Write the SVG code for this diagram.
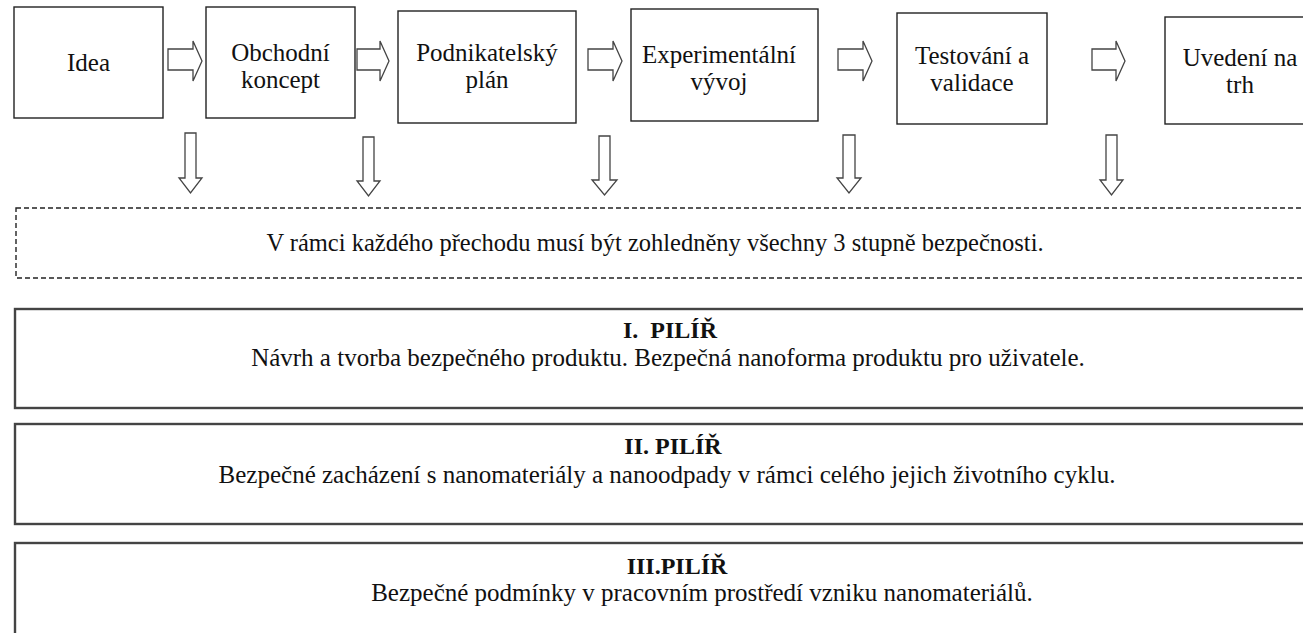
<svg xmlns="http://www.w3.org/2000/svg" width="1303" height="633" viewBox="0 0 1303 633">
<style>
text{font-family:"Liberation Serif","DejaVu Serif",serif;fill:#111;text-anchor:middle}
.lbl{font-size:25px}
.box{fill:#fff;stroke:#222;stroke-width:1.4}
.dash{fill:none;stroke:#222;stroke-width:1.4;stroke-dasharray:5 3}
.pil{fill:#fff;stroke:#444;stroke-width:2.4}
.arr{fill:#fff;stroke:#444;stroke-width:1.3;stroke-linejoin:miter}
.t2{font-size:24.5px}
.t3{font-size:25px}
.tb{font-size:24px;font-weight:bold}
</style>
<rect width="1303" height="633" fill="#fff"/>
<g font-family="Liberation Serif, serif">
<g id="n-idea"><rect class="box" x="14" y="7" width="149" height="111"/><text class="lbl" x="88.5" y="71">Idea</text></g>
<g id="n-obchodni"><rect class="box" x="206" y="7" width="149" height="111"/><text class="lbl" x="280.5" y="61">Obchodní</text><text class="lbl" x="280.5" y="88">koncept</text></g>
<g id="n-podnik"><rect class="box" x="398" y="11" width="178" height="112"/><text class="lbl" x="487" y="61">Podnikatelský</text><text class="lbl" x="487" y="88">plán</text></g>
<g id="n-exper"><rect class="box" x="631" y="9" width="187" height="112"/><text class="lbl" x="719" y="63">Experimentální</text><text class="lbl" x="719" y="90">vývoj</text></g>
<g id="n-test"><rect class="box" x="897" y="13" width="150" height="111"/><text class="lbl" x="972" y="64">Testování a</text><text class="lbl" x="972" y="91">validace</text></g>
<g id="n-uvedeni"><rect class="box" x="1165" y="17" width="160" height="107"/><text class="lbl" x="1240" y="66">Uvedení na</text><text class="lbl" x="1240" y="93">trh</text></g>
<g id="connectors">
<polygon class="arr" points="168,49 193,49 193,41 202,61 193,81 193,70 168,70"/>
<polygon class="arr" points="357,49 380,49 380,41 389,61 380,81 380,70 357,70"/>
<polygon class="arr" points="588,49 613,49 613,41 622,61 613,81 613,70 588,70"/>
<polygon class="arr" points="838,49 863,49 863,41 872,61 863,81 863,70 838,70"/>
<polygon class="arr" points="1092,49 1116,49 1116,41 1125,61 1116,81 1116,70 1092,70"/>
<polygon class="arr" points="185,133 196,133 196,178 202,178 190.5,193 179,178 185,178"/>
<polygon class="arr" points="363,137 374,137 374,181 380,181 368.5,196 357,181 363,181"/>
<polygon class="arr" points="599,136 610,136 610,180 617,180 604.5,195 592,180 599,180"/>
<polygon class="arr" points="843,135 855,135 855,178 861,178 849,193 837,178 843,178"/>
<polygon class="arr" points="1106,135 1117,135 1117,180 1123,180 1111.5,195 1100,180 1106,180"/>
</g>
<g id="n-ramec"><rect class="dash" x="16" y="208" width="1300" height="70"/><text class="t2" x="655" y="251">V rámci každého přechodu musí být zohledněny všechny 3 stupně bezpečnosti.</text></g>
<g id="n-pilir1"><rect class="pil" x="15" y="309" width="1300" height="99"/><text class="tb" x="670" y="338">I.&#160; PILÍŘ</text><text class="t3" x="668" y="366">Návrh a tvorba bezpečného produktu. Bezpečná nanoforma produktu pro uživatele.</text></g>
<g id="n-pilir2"><rect class="pil" x="15" y="424" width="1300" height="100"/><text class="tb" x="673" y="454">II. PILÍŘ</text><text class="t3" x="667" y="483">Bezpečné zacházení s nanomateriály a nanoodpady v rámci celého jejich životního cyklu.</text></g>
<g id="n-pilir3"><rect class="pil" x="15" y="543" width="1300" height="110"/><text class="tb" x="677" y="574">III.PILÍŘ</text><text class="t3" x="702" y="601">Bezpečné podmínky v pracovním prostředí vzniku nanomateriálů.</text></g>
</g>
</svg>
